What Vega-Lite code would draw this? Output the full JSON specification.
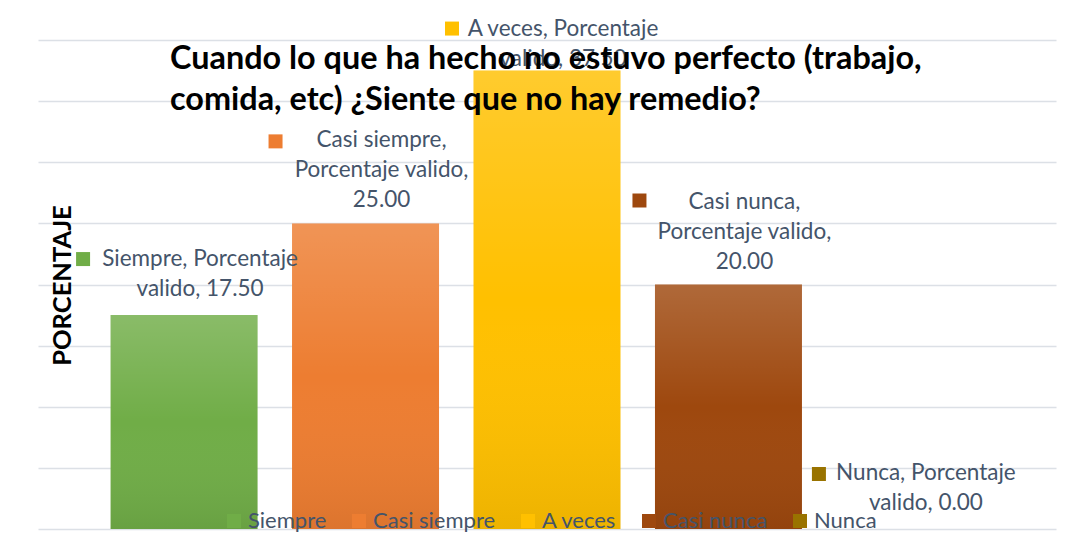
{
  "$schema": "https://vega.github.io/schema/vega-lite/v6.json",
  "autosize": {"type": "none"},
  "width": 1018,
  "height": 489,
  "padding": {"left": 38, "top": 40, "right": 20, "bottom": 25},
  "background": "white",
  "title": {
    "text": ["Cuando lo que ha hecho no estuvo perfecto (trabajo,", "comida, etc) ¿Siente que no hay remedio?"],
    "anchor": "start",
    "orient": "top",
    "offset": 0,
    "dx": 132,
    "dy": 99,
    "font": "Lato",
    "fontSize": 32.4,
    "fontWeight": "bold",
    "color": "#000000",
    "lineHeight": 41,
    "zindex": 1
  },
  "config": {
    "view": {"stroke": null},
    "font": "Lato",
    "legend": {"padding": 0}
  },
  "data": {
    "values": [
      {"categoria": "Siempre", "porcentaje": 17.5, "etiqueta": "Siempre, Porcentaje\nvalido, 17.50"},
      {"categoria": "Casi siempre", "porcentaje": 25.0, "etiqueta": "Casi siempre,\nPorcentaje valido,\n25.00"},
      {"categoria": "A veces", "porcentaje": 37.5, "etiqueta": "A veces, Porcentaje\nvalido, 37.50"},
      {"categoria": "Casi nunca", "porcentaje": 20.0, "etiqueta": "Casi nunca,\nPorcentaje valido,\n20.00"},
      {"categoria": "Nunca", "porcentaje": 0.0, "etiqueta": "Nunca, Porcentaje\nvalido, 0.00"}
    ]
  },
  "encoding": {
    "x": {
      "field": "categoria", "type": "nominal",
      "sort": ["Siempre", "Casi siempre", "A veces", "Casi nunca", "Nunca"],
      "scale": {"paddingInner": 0.19, "paddingOuter": 0.4},
      "axis": null
    },
    "y": {
      "field": "porcentaje", "type": "quantitative",
      "scale": {"domain": [0, 40], "nice": false},
      "axis": {
        "values": [0, 5, 10, 15, 20, 25, 30, 35, 40],
        "labels": false, "ticks": false, "domain": false,
        "grid": true, "gridColor": "#DCE0E6", "gridWidth": 1.5,
        "title": "PORCENTAJE",
        "titleFont": "Lato", "titleFontSize": 25.5, "titleFontWeight": "bold", "titleColor": "#000000",
        "titleAngle": -90, "titleX": 24, "titleY": 245, "titleAlign": "center", "titleBaseline": "middle"
      }
    }
  },
  "layer": [
    {
      "mark": {"type": "bar"},
      "encoding": {
        "color": {
          "field": "categoria", "type": "nominal",
          "scale": {
            "domain": ["Siempre", "Casi siempre", "A veces", "Casi nunca", "Nunca"],
            "range": ["#70AD47", "#ED7D31", "#FFC000", "#9E480E", "#997300"]
          },
          "legend": {
            "orient": "none", "direction": "horizontal", "columns": 5,
            "legendX": 185, "legendY": 470,
            "title": null,
            "symbolType": "square", "symbolSize": 196, "symbolStrokeWidth": 0, "symbolOpacity": 1,
            "labelFont": "Lato", "labelFontSize": 22, "labelColor": "#44546A",
            "labelOffset": 3, "columnPadding": 21, "labelLimit": 300
          }
        }
      }
    },
    {
      "mark": {
        "type": "bar",
        "color": {
          "gradient": "linear", "x1": 0, "y1": 0, "x2": 0, "y2": 1,
          "stops": [
            {"offset": 0, "color": "rgba(255,255,255,0.18)"},
            {"offset": 0.5, "color": "rgba(255,255,255,0.0)"},
            {"offset": 1, "color": "rgba(0,0,0,0.07)"}
          ]
        }
      }
    },
    {
      "transform": [{"filter": "datum.categoria === 'Siempre' || datum.categoria === 'Nunca'"}],
      "mark": {"type": "text", "lineBreak": "\n", "align": "center", "baseline": "middle", "dx": 16, "dy": -56, "fontSize": 22.5, "lineHeight": 30, "color": "#44546A", "font": "Lato"},
      "encoding": {"text": {"field": "etiqueta"}}
    },
    {
      "transform": [{"filter": "datum.categoria === 'Casi siempre' || datum.categoria === 'Casi nunca'"}],
      "mark": {"type": "text", "lineBreak": "\n", "align": "center", "baseline": "middle", "dx": 16, "dy": -83, "fontSize": 22.5, "lineHeight": 30, "color": "#44546A", "font": "Lato"},
      "encoding": {"text": {"field": "etiqueta"}}
    },
    {
      "transform": [{"filter": "datum.categoria === 'A veces'"}],
      "mark": {"type": "text", "lineBreak": "\n", "align": "center", "baseline": "middle", "dx": 16, "dy": -42, "fontSize": 22.5, "lineHeight": 30, "color": "#44546A", "font": "Lato"},
      "encoding": {"text": {"field": "etiqueta"}}
    },
    {
      "transform": [{"filter": "datum.categoria === 'Siempre'"}],
      "mark": {"type": "point", "shape": "square", "filled": true, "size": 196, "opacity": 1, "xOffset": -101, "yOffset": -56},
      "encoding": {"color": {"field": "categoria", "type": "nominal"}}
    },
    {
      "transform": [{"filter": "datum.categoria === 'Casi siempre'"}],
      "mark": {"type": "point", "shape": "square", "filled": true, "size": 196, "opacity": 1, "xOffset": -90, "yOffset": -82},
      "encoding": {"color": {"field": "categoria", "type": "nominal"}}
    },
    {
      "transform": [{"filter": "datum.categoria === 'A veces'"}],
      "mark": {"type": "point", "shape": "square", "filled": true, "size": 196, "opacity": 1, "xOffset": -95, "yOffset": -42},
      "encoding": {"color": {"field": "categoria", "type": "nominal"}}
    },
    {
      "transform": [{"filter": "datum.categoria === 'Casi nunca'"}],
      "mark": {"type": "point", "shape": "square", "filled": true, "size": 196, "opacity": 1, "xOffset": -89, "yOffset": -84},
      "encoding": {"color": {"field": "categoria", "type": "nominal"}}
    },
    {
      "transform": [{"filter": "datum.categoria === 'Nunca'"}],
      "mark": {"type": "point", "shape": "square", "filled": true, "size": 196, "opacity": 1, "xOffset": -91, "yOffset": -55},
      "encoding": {"color": {"field": "categoria", "type": "nominal"}}
    }
  ]
}
